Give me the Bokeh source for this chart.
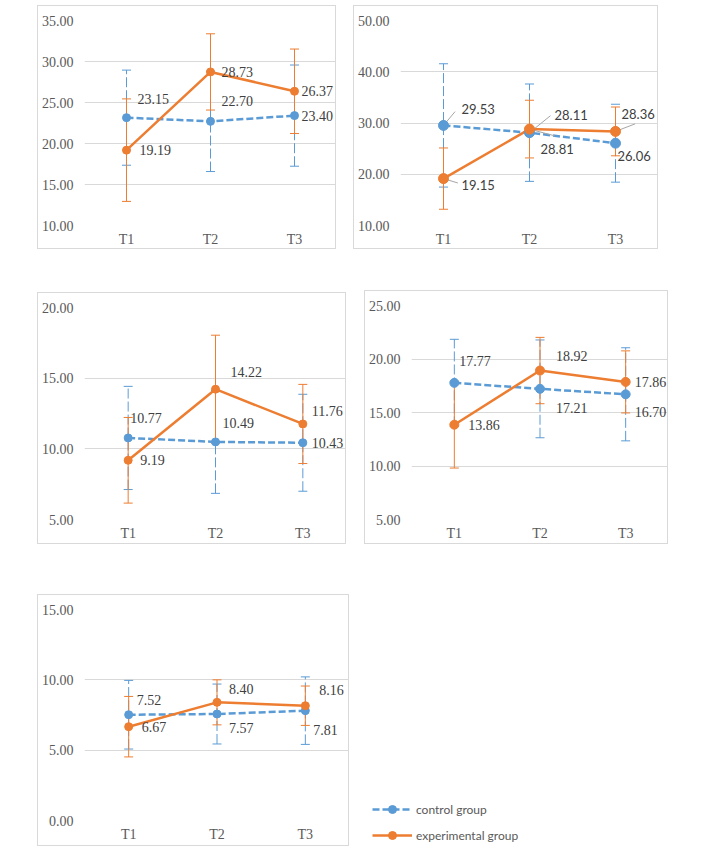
from bokeh.plotting import figure
from bokeh.models import (ColumnDataSource, Range1d, FactorRange, FixedTicker,
                          NumeralTickFormatter, Whisker, TeeHead, Legend,
                          LegendItem, Spacer)
from bokeh.layouts import column, row
from bokeh.embed import file_html
from bokeh.resources import INLINE
from bokeh.core.properties import value

# ---------------- data ----------------
times = ["T1", "T2", "T3"]

p1_ctrl = [23.15, 22.70, 23.40]
p1_ctrl_sd = [5.80, 6.12, 6.17]
p1_exp = [19.19, 28.73, 26.37]
p1_exp_sd = [6.25, 4.65, 5.15]
p1_ticks = [10, 15, 20, 25, 30, 35]

p2_ctrl = [29.53, 28.11, 26.06]
p2_ctrl_sd = [12.03, 9.50, 7.60]
p2_exp = [19.15, 28.81, 28.36]
p2_exp_sd = [5.98, 5.63, 4.76]
p2_ticks = [10, 20, 30, 40, 50]

p3_ctrl = [10.77, 10.49, 10.43]
p3_ctrl_sd = [3.65, 3.64, 3.43]
p3_exp = [9.19, 14.22, 11.76]
p3_exp_sd = [3.03, 3.82, 2.80]
p3_ticks = [5, 10, 15, 20]

p4_ctrl = [17.77, 17.21, 16.70]
p4_ctrl_sd = [4.07, 4.57, 4.35]
p4_exp = [13.86, 18.92, 17.86]
p4_exp_sd = [4.05, 3.10, 2.90]
p4_ticks = [5, 10, 15, 20, 25]

p5_ctrl = [7.52, 7.57, 7.81]
p5_ctrl_sd = [2.44, 2.13, 2.40]
p5_exp = [6.67, 8.40, 8.16]
p5_exp_sd = [2.15, 1.60, 1.40]
p5_ticks = [0, 5, 10, 15]

series_names = ["control group", "experimental group"]

# ---------------- styles ----------------
BLUE = "#5B9BD5"
ORANGE = "#ED7D31"
GRID = "#D9D9D9"
TICK_COLOR = "#595959"
LABEL_COLOR = "#404040"
SERIF = "Liberation Serif"
SANS = "Lato"
LINE_DASH = "7 3"


def make_panel(w, h, bl, br, bt, bb, ticks, ctrl, ctrl_sd, exp, exp_sd,
               ctrl_off, exp_off, label_font, label_size, msize, leaders=()):
    p = figure(width=w, height=h, x_range=FactorRange(*times),
               y_range=Range1d(ticks[0], ticks[-1]),
               toolbar_location=None, output_backend="svg",
               min_border_left=bl, min_border_right=br,
               min_border_top=bt, min_border_bottom=bb,
               background_fill_color="white", border_fill_color="white")
    p.styles = {"border": "1px solid #D9D9D9", "box-sizing": "border-box"}
    p.outline_line_color = None
    p.xgrid.grid_line_color = None
    p.ygrid.grid_line_color = GRID
    p.ygrid.grid_line_width = 1
    p.yaxis.ticker = FixedTicker(ticks=ticks)
    p.yaxis.formatter = NumeralTickFormatter(format="0.00")
    for ax in (p.xaxis[0], p.yaxis[0]):
        ax.axis_line_color = None
        ax.major_tick_line_color = None
        ax.minor_tick_line_color = None
        ax.major_tick_out = 0
        ax.major_tick_in = 0
        ax.major_label_text_font = SERIF
        ax.major_label_text_font_size = "14px"
        ax.major_label_text_color = TICK_COLOR
    p.yaxis.major_label_standoff = 11
    p.xaxis.major_label_standoff = 6

    for vals, sds, color, dash in ((ctrl, ctrl_sd, BLUE, LINE_DASH),
                                   (exp, exp_sd, ORANGE, "solid")):
        src = ColumnDataSource(dict(
            x=times, y=vals,
            upper=[v + s for v, s in zip(vals, sds)],
            lower=[v - s for v, s in zip(vals, sds)]))
        wh = Whisker(source=src, base="x", upper="upper", lower="lower",
                     dimension="height", line_color=color, line_width=1,
                     line_dash="10 3" if dash != "solid" else "solid",
                     upper_head=TeeHead(size=9, line_color=color, line_width=1),
                     lower_head=TeeHead(size=9, line_color=color, line_width=1),
                     level="underlay")
        p.add_layout(wh)
        p.line("x", "y", source=src, line_color=color, line_width=2.5,
               line_dash=dash, line_join="round")
    for series, i, ang, length in leaders:
        vals = ctrl if series == 0 else exp
        p.ray(x=[times[i]], y=[vals[i]], length=length, length_units="screen",
              angle=ang, angle_units="deg", line_color="#A6A6A6", line_width=1)
    for vals, color, offs in ((ctrl, BLUE, ctrl_off), (exp, ORANGE, exp_off)):
        src = ColumnDataSource(dict(
            x=times, y=vals, label=[f"{v:.2f}" for v in vals],
            dx=[o[0] for o in offs], dy=[o[1] for o in offs]))
        p.scatter("x", "y", source=src, marker="circle", size=msize,
                  fill_color=color, line_color=color)
        p.text("x", "y", text="label", source=src, x_offset="dx",
               y_offset="dy", text_align="left", text_baseline="middle",
               text_font=value(label_font), text_font_size=label_size,
               text_color=LABEL_COLOR)
    return p


p1 = make_panel(299, 244, 45, 1, 14, 25, p1_ticks, p1_ctrl, p1_ctrl_sd,
                p1_exp, p1_exp_sd,
                [(11, -19), (11, -20), (7, 0)], [(13, 0), (11, 0), (7, 0)],
                SERIF, "14px", 8)
p2 = make_panel(305, 244, 46, 1, 12, 25, p2_ticks, p2_ctrl, p2_ctrl_sd,
                p2_exp, p2_exp_sd,
                [(18, -16), (25, -18), (2, 13)], [(18, 6), (11, 20), (6, -17)],
                SANS, "13px", 10,
                leaders=[(0, 0, 50, 18), (1, 0, -17, 15), (0, 1, 39, 27),
                         (1, 1, -15, 26), (1, 2, 21, 21)])
p3 = make_panel(309, 252, 45, 1, 14, 26, p3_ticks, p3_ctrl, p3_ctrl_sd,
                p3_exp, p3_exp_sd,
                [(2, -20), (7, -19), (9, 0)], [(12, 0), (15, -17), (9, -13)],
                SERIF, "14px", 8)
p4 = make_panel(304, 254, 45, 1, 14, 26, p4_ticks, p4_ctrl, p4_ctrl_sd,
                p4_exp, p4_exp_sd,
                [(5, -22), (16, 19), (9, 18)], [(14, 0), (16, -15), (9, 0)],
                SERIF, "14px", 9)
p5 = make_panel(312, 252, 45, 1, 14, 27, p5_ticks, p5_ctrl, p5_ctrl_sd,
                p5_exp, p5_exp_sd,
                [(8, -15), (12, 14), (8, 19)], [(13, 0), (12, -13), (14, -16)],
                SERIF, "14px", 8)

# legend carrier figure: hidden copies of the series renderers
leg = figure(width=200, height=50, toolbar_location=None, output_backend="svg",
             x_range=FactorRange(*times), y_range=Range1d(p5_ticks[0], p5_ticks[-1]),
             min_border=0)
leg.axis.visible = False
leg.grid.visible = False
leg.outline_line_color = None
lc = leg.line(times, p5_ctrl, line_color=BLUE, line_width=2.5, line_dash=LINE_DASH)
sc = leg.scatter(times, p5_ctrl, marker="circle", size=8, fill_color=BLUE, line_color=BLUE)
le = leg.line(times, p5_exp, line_color=ORANGE, line_width=2.5)
se = leg.scatter(times, p5_exp, marker="circle", size=8, fill_color=ORANGE, line_color=ORANGE)
for r in (lc, sc, le, se):
    r.visible = False
legend = Legend(items=[LegendItem(label=series_names[0], renderers=[lc, sc]),
                       LegendItem(label=series_names[1], renderers=[le, se])],
                location=(12, 0), glyph_width=40, glyph_height=20, spacing=6,
                padding=0, margin=0, border_line_color=None,
                background_fill_alpha=0, inactive_fill_alpha=0,
                label_text_font=SANS,
                label_text_font_size="12px", label_text_color=TICK_COLOR,
                label_standoff=4, label_height=20)
leg.add_layout(legend)

row1 = row(Spacer(width=37, height=244), p1, Spacer(width=17, height=244), p2)
row2 = row(Spacer(width=37, height=254), column(Spacer(height=2), p3),
           Spacer(width=18, height=254), p4)
row3 = row(Spacer(width=37, height=252), p5, Spacer(width=11, height=252),
           column(Spacer(height=201), leg))
layout = column(Spacer(height=5), row1, Spacer(height=41), row2,
                Spacer(height=50), row3)

open("out.html", "w").write(file_html(layout, INLINE))
